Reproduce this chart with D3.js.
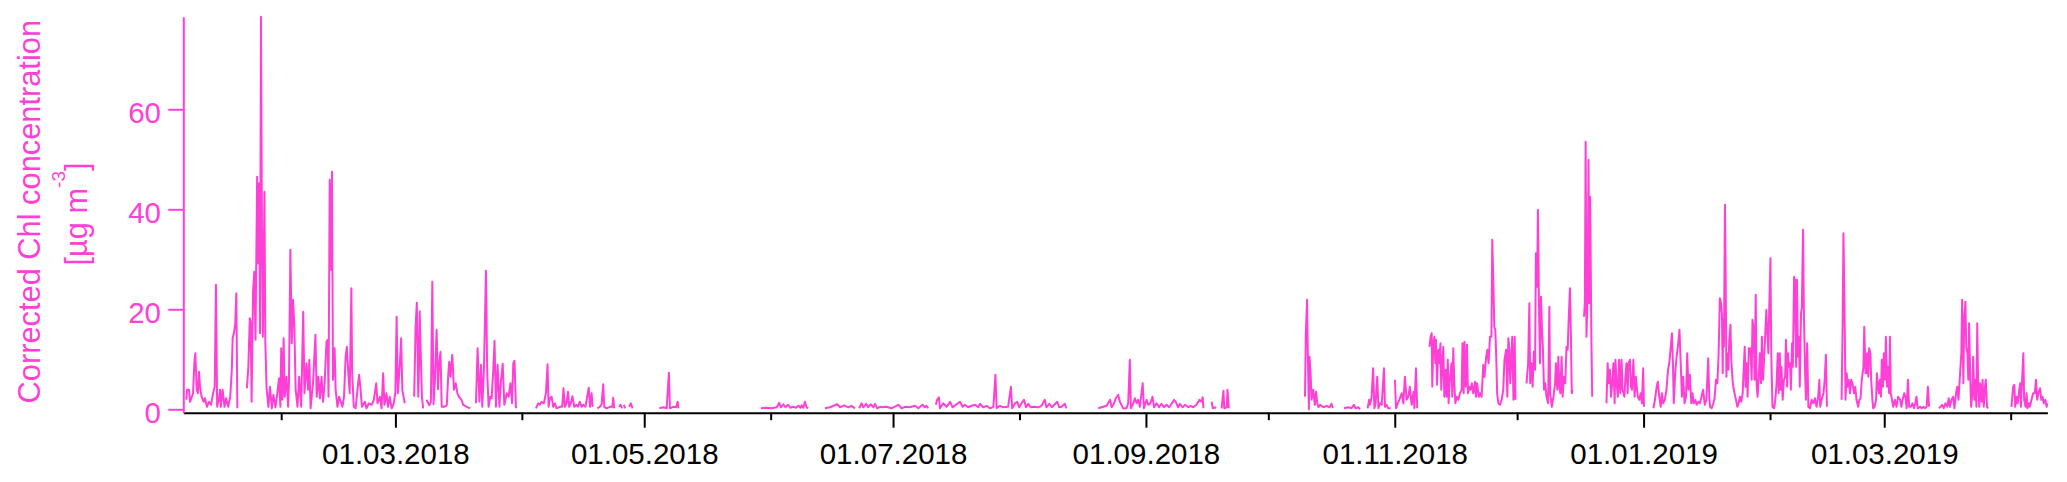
<!DOCTYPE html>
<html>
<head>
<meta charset="utf-8">
<script src="https://cdn.jsdelivr.net/npm/d3@7"></script>
<style>
  body { margin: 0; background: #fff; }
  svg text { font-family: "Liberation Sans", Arial, sans-serif; }
</style>
</head>
<body>
<div id="chart"></div>
<script>
// Chl data: [days since 01.01.2018, µg m-3]
// every inner array is one unbroken stretch of the record (gaps between them)
var winter2018 = [
  [[7.75,1.9],[7.9,3.9],[8.4,3.9],[8.65,1.5],[9.4,3.2],[9.7,9.2],[9.95,11.2],[10.3,3.9],[10.6,3.2],[10.85,7.5],[11.1,4.5],[11.5,2.5],[12.0,1.5],[12.3,2.2],[12.8,0.5],[13.3,1.5],[13.8,0.9],[14.3,3.2],[14.7,4.5],[15.0,24.9],[15.3,0.5],[15.75,2.2],[16.0,3.9],[16.2,0.5],[16.65,3.9],[17.1,0.5],[17.5,2.2],[18.0,0.5],[18.5,2.5],[18.9,7.9],[19.1,14.2],[19.4,15.2],[19.75,17.2],[20.0,23.2],[20.25,0.2]],
  [[22.6,4.2],[22.95,8.5],[23.3,18.2],[23.5,17.5],[23.75,1.5],[24.1,23.5],[24.4,27.5],[24.7,13.9],[25.1,46.5],[25.3,29.2],[25.6,45.2],[25.8,15.2],[26.05,78.5],[26.3,33.2],[26.5,14.5],[26.9,43.5],[27.1,13.9],[27.4,4.5],[27.85,0.5],[28.25,4.5],[28.7,0.2],[29.1,2.9],[29.6,0.4],[30.05,3.2],[30.45,6.2],[30.8,0.5],[31.0,12.2],[31.3,1.9],[31.6,14.2],[31.85,2.5],[32.3,6.5],[32.7,0.5],[32.9,5.2],[33.25,31.9],[33.6,13.2],[33.9,21.9],[34.2,17.2],[34.55,3.9],[35.0,0.5],[35.4,6.5],[35.9,0.5],[36.4,19.5],[36.7,3.2],[37.2,9.2],[37.6,3.9],[37.9,9.9],[38.2,0.2],[38.8,5.2],[39.4,14.9],[39.7,2.5],[40.1,6.5],[40.5,2.2],[40.9,6.5],[41.25,1.5],[41.65,5.2],[42.1,13.5],[42.4,13.9],[42.6,2.5],[42.9,45.9],[43.2,27.9],[43.45,47.5],[43.7,5.9],[44.1,12.2],[44.35,3.9],[44.8,0.5],[45.2,2.5],[45.6,1.5],[46.0,0.5],[46.4,2.5],[46.8,10.5],[47.1,12.5],[47.45,7.2],[47.8,3.2],[48.2,24.2],[48.4,7.2],[48.8,0.5],[49.25,0.2],[49.7,3.9],[50.1,6.9],[50.4,4.5],[50.8,0.5],[51.5,1.5],[51.9,0.2],[52.5,1.2],[53.2,0.9],[53.7,1.9],[54.0,3.5],[54.3,5.2],[54.6,1.2],[55.2,2.5],[55.6,0.2],[56.0,7.2],[56.3,0.9],[56.8,3.2],[57.2,0.5],[57.6,2.5],[58.1,0.2],[58.6,1.2],[59.0,3.5],[59.3,18.5],[59.6,3.2],[60.05,8.5],[60.4,14.2],[60.7,3.9],[61.0,2.5],[61.3,1.2]],
  [[63.6,2.5],[63.95,16.5],[64.25,21.3],[64.6,2.5],[64.8,9.0],[64.95,19.6],[65.5,2.5],[65.8,0.2]],
  [[66.65,1.9],[67.3,0.8],[67.7,1.5],[68.05,25.5],[68.35,1.0],[68.7,6.0],[69.1,15.9],[69.45,4.0],[69.7,9.0],[70.05,11.5],[70.35,0.5],[70.9,0.5],[71.6,0.8],[71.97,7.2],[72.2,9.5],[72.5,6.5],[72.95,10.9],[73.35,3.9],[73.8,5.2],[74.2,3.2],[74.6,2.5],[75.2,1.9],[75.6,0.9],[76.5,0.5],[77.3,0.2]],
  [[78.75,1.2],[79.15,12.2],[79.6,1.5],[80.0,8.9],[80.3,0.5],[80.7,7.9],[81.2,27.7],[81.5,7.5],[81.85,0.5],[82.2,2.5],[82.6,2.2],[83.0,7.9],[83.3,13.7],[83.65,0.5],[84.05,8.9],[84.5,0.5],[84.9,5.9],[85.3,9.1],[85.7,0.9],[86.3,3.2],[86.75,2.5],[87.2,5.2],[87.6,1.2],[87.9,9.2],[88.2,9.7],[88.55,0.2]]
];

var spring2018 = [
  [[93.45,0.2],[94.0,1.2],[94.4,0.9],[94.85,1.5],[95.4,1.2],[95.9,3.2],[96.3,9.0],[96.55,0.5],[96.9,2.2],[97.3,2.5],[97.7,0.5],[98.1,1.2],[98.5,0.2],[99.3,0.5],[99.9,0.5],[100.2,4.2],[100.55,0.5],[100.95,1.2],[101.3,3.5],[101.6,0.5],[102.0,1.2],[102.4,2.6],[102.85,0.5],[103.4,0.9],[103.8,0.5],[104.2,1.5],[104.65,0.5],[105.05,0.9],[105.6,0.5],[106.0,2.5],[106.4,4.3],[106.7,0.5],[107.1,3.2],[107.35,0.5]],
  [[108.5,0.2],[109.1,0.5],[109.55,1.0],[109.95,5.0],[110.2,0.5],[110.8,0.2],[111.6,0.5],[112.2,0.5],[112.4,2.3],[112.65,0.2]],
  [[113.8,0.5],[114.2,0.9],[114.6,0.2]],
  [[115.0,0.9],[115.35,0.2]],
  [[116.3,0.5],[116.7,1.2],[117.15,0.2]],
  [[123.7,0.2],[124.7,0.4],[125.5,0.2],[126.05,7.3],[126.3,0.2],[127.1,0.5],[127.8,0.4],[128.2,1.5],[128.4,0.2]]
];

var summer2018 = [
  [[148.6,0.2],[149.8,0.3],[151.2,0.2],[152.5,0.4],[153.1,1.3],[153.5,0.4],[154.1,1.0],[154.6,0.4],[155.3,0.9],[155.8,0.3],[156.5,0.5],[157.2,0.3],[157.8,0.7],[158.3,0.3],[158.6,0.8],[159.0,0.3],[159.4,1.5],[159.8,0.4],[160.2,0.2]],
  [[164.3,0.2],[165.5,0.4],[167.3,1.0],[168.0,0.4],[169.0,0.8],[170.0,0.4],[170.8,0.7],[171.7,0.2]],
  [[172.7,0.2],[173.3,1.2],[173.7,0.4],[174.4,1.1],[174.9,0.4],[175.5,1.0],[176.2,0.4],[176.6,1.1],[177.1,0.2],[177.8,0.5],[178.6,0.4],[179.4,0.5],[180.6,0.2],[182.3,0.9],[183.1,0.2],[183.9,0.5],[185.1,0.4],[186.4,0.7],[187.2,0.2],[188.2,0.9],[188.8,0.4],[189.2,0.7],[189.6,0.2]],
  [[191.5,0.9],[191.8,1.9],[192.25,2.4],[192.5,0.2],[193.3,1.2],[194.1,0.5],[195.0,1.5],[195.6,0.4],[196.4,0.9],[197.4,1.5],[198.05,0.5],[198.6,0.9],[199.4,0.4],[200.3,0.7],[201.1,0.9],[201.9,0.4],[202.3,1.1],[203.1,0.4],[203.9,0.7],[204.75,0.2],[205.6,0.5],[206.1,6.9],[206.4,0.2],[207.2,0.7],[208.0,0.4],[209.2,0.5],[209.9,4.5],[210.2,0.2],[210.9,1.2],[211.45,1.5],[211.95,0.4],[212.5,1.2],[213.1,1.9],[213.6,0.4],[214.15,1.1],[214.7,0.4],[215.5,0.5],[216.6,0.4],[217.4,0.7],[218.2,1.9],[218.6,0.4],[219.3,1.1],[219.9,0.4],[220.3,0.7],[221.25,1.5],[221.75,0.4],[222.3,0.5],[223.1,1.1],[223.5,0.2]],
  [[231.3,0.2],[232.1,0.4],[233.35,0.7],[234.2,1.9],[234.6,0.4],[235.2,1.2],[235.6,2.2],[236.2,2.9],[236.6,1.5],[237.0,0.9],[237.4,0.2],[238.25,0.2],[238.65,1.2],[239.05,9.9],[239.3,0.2],[239.9,1.2],[240.3,2.2],[240.7,1.2],[241.1,1.9],[241.5,0.5],[242.2,5.2],[242.5,0.2],[243.15,1.9],[243.55,0.9],[244.1,1.2],[244.6,2.5],[245.0,0.4],[245.6,1.2],[246.2,0.4],[246.8,1.1],[247.4,0.4],[248.05,0.9],[248.7,0.4],[249.3,1.1],[249.9,1.9],[250.3,1.5],[250.9,0.4],[251.3,1.1],[252.0,0.4],[252.55,0.9],[253.4,0.4],[253.9,0.7],[254.6,0.4],[255.4,0.9],[256.1,1.9],[256.65,1.5],[256.9,2.4],[257.1,0.2]],
  [[259.1,1.5],[259.4,0.2],[259.9,0.4],[260.2,0.2]],
  [[261.55,0.2],[262.0,3.7],[262.2,0.2],[262.8,0.4],[263.0,3.9],[263.3,0.2]]
];

var autumn2018 = [
  [[282.0,2.5],[282.2,15.2],[282.5,21.9],[282.7,10.5],[282.95,0.0],[283.1,10.5],[283.4,6.5],[283.6,1.9],[284.0,3.9],[284.4,0.9],[284.7,3.5],[285.0,1.2],[285.3,0.4],[285.7,0.9],[286.5,0.4],[287.3,0.7],[288.0,0.4],[288.5,1.1],[288.8,0.2]],
  [[291.55,0.2],[292.6,0.4],[293.4,0.2],[294.0,0.9],[294.4,0.2],[295.05,0.4],[295.5,0.0]],
  [[297.35,0.2],[297.7,1.9],[297.9,0.9],[298.3,2.2],[298.7,8.2],[299.0,0.2],[299.3,1.2],[299.7,6.5],[300.0,0.2],[300.4,1.2],[300.8,0.9],[301.35,8.2],[301.6,0.5],[302.0,0.9],[302.4,0.2],[303.0,0.2]],
  [[304.05,5.9],[304.3,0.2],[304.6,0.9],[305.1,1.9],[305.7,3.2],[306.1,1.2],[306.5,6.5],[306.9,1.9],[307.3,2.5],[307.7,4.5],[308.15,0.9],[308.6,3.5],[308.8,0.2],[309.2,8.2],[309.5,0.2]],
  [[312.5,12.5],[312.8,14.5],[313.05,15.2],[313.2,4.5],[313.45,13.2],[313.7,14.5],[313.95,9.2],[314.1,13.9],[314.35,4.9],[314.7,11.9],[314.9,9.2],[315.2,13.2],[315.4,3.9],[315.7,9.2],[315.9,12.5],[316.15,2.5],[316.5,7.9],[316.7,2.5],[317.0,9.9],[317.2,1.2],[317.5,5.9],[317.9,9.2],[318.1,2.5],[318.35,12.2],[318.6,5.2],[318.85,1.2],[319.2,2.5],[319.6,1.9],[320.0,3.2],[320.4,3.9],[320.6,13.2],[320.9,3.2],[321.1,13.5],[321.4,4.5],[321.7,12.9],[321.95,3.2],[322.3,4.5],[322.6,3.9],[322.9,5.2],[323.25,3.2],[323.7,5.5],[323.9,2.5],[324.2,5.2],[324.6,2.5],[324.9,3.2],[325.3,2.5],[325.7,8.9],[326.0,6.5],[326.4,10.5],[326.7,11.9],[327.0,9.2],[327.35,14.5],[327.7,14.5],[327.9,33.9],[328.2,24.5],[328.4,16.5],[328.65,15.9],[328.9,9.9],[329.1,3.2],[329.4,1.2],[329.8,0.9],[330.2,1.9],[330.6,3.9],[330.9,9.9],[331.3,11.9],[331.6,2.5],[331.85,14.2],[332.1,11.9],[332.3,5.2],[332.6,10.5],[332.8,14.5],[333.1,1.9],[333.4,14.5],[333.6,1.9]],
  [[336.3,5.2],[336.7,9.2],[337.0,21.2],[337.2,5.2],[337.55,9.2],[337.8,4.5],[338.1,11.5],[338.4,7.9],[338.6,31.2],[338.9,24.5],[339.1,39.9],[339.35,21.2],[339.6,9.2],[339.85,22.5],[340.1,15.9],[340.3,12.5],[340.6,3.9],[340.9,5.2],[341.2,2.5],[341.6,1.2],[341.9,20.5],[342.1,3.2],[342.5,0.5],[342.9,2.5],[343.3,5.2],[343.5,9.2],[343.85,3.9],[344.1,10.5],[344.35,4.5],[344.6,3.2],[344.9,10.5],[345.15,2.5],[345.5,6.5],[345.8,5.2],[346.1,12.5],[346.4,11.9],[346.6,17.2],[346.95,24.2],[347.2,13.9],[347.4,3.2],[347.6,3.9]],
  [[350.4,18.5],[350.6,21.2],[350.8,53.5],[351.0,14.5],[351.3,23.2],[351.5,49.9],[351.7,21.2],[351.9,42.5],[352.2,14.5],[352.4,2.5]],
  [[355.9,1.2],[356.2,9.2],[356.4,5.2],[356.75,7.9],[357.0,2.5],[357.3,5.2],[357.6,9.2],[357.9,1.2],[358.1,9.9],[358.4,5.2],[358.7,2.5],[359.0,9.9],[359.3,3.2],[359.6,9.9],[359.85,3.9],[360.3,2.5],[360.6,7.2],[360.8,9.2],[361.1,3.2],[361.3,9.2],[361.65,9.9],[361.9,4.5],[362.15,3.9],[362.5,9.9],[362.8,2.5],[363.1,6.5],[363.4,3.9],[363.6,2.5],[363.95,1.9],[364.3,3.2],[364.6,1.2],[364.9,8.2],[365.1,0.5]]
];

var winter2019 = [
  [[367.4,0.2],[367.8,1.9],[368.2,4.5],[368.5,5.5],[368.85,2.5],[369.2,0.5],[369.5,3.2],[369.8,1.2],[370.2,1.9],[370.6,3.9],[371.0,7.9],[371.3,9.2],[371.6,11.9],[371.95,15.2],[372.2,9.2],[372.4,1.2],[372.8,7.9],[373.1,10.5],[373.5,13.2],[373.8,15.9],[374.1,9.2],[374.4,2.5],[374.7,6.5],[375.05,1.2],[375.4,2.5],[375.7,11.2],[376.0,3.9],[376.35,6.9],[376.7,1.2],[377.0,3.2],[377.3,1.2],[377.7,1.9],[378.0,0.9],[378.4,1.5],[378.8,1.2],[379.2,2.5],[379.6,3.9],[380.0,0.9],[380.4,1.9],[380.85,10.2],[381.1,2.5],[381.3,0.5],[381.7,0.2],[382.1,1.2],[382.4,2.2],[382.75,5.9],[383.1,5.2],[383.4,11.2],[383.7,22.2],[384.0,21.2],[384.2,19.2],[384.4,7.2],[384.5,17.9],[384.7,12.5],[384.95,40.9],[385.1,29.9],[385.3,6.5],[385.5,11.2],[385.8,7.9],[386.0,13.9],[386.3,16.9],[386.5,9.9],[386.8,5.9],[387.0,4.5],[387.3,3.2],[387.65,1.9],[388.0,0.5],[388.3,1.2],[388.6,2.5],[388.95,1.5],[389.3,3.2],[389.5,7.2],[389.8,12.5],[390.0,4.5],[390.3,9.2],[390.5,2.5],[390.8,12.2],[391.0,11.2],[391.2,12.2],[391.5,5.9],[391.7,17.9],[392.0,15.9],[392.2,5.9],[392.5,22.9],[392.7,5.2],[392.95,2.5],[393.2,5.9],[393.5,11.2],[393.8,5.2],[394.0,14.5],[394.3,5.9],[394.6,11.2],[394.8,14.5],[395.1,19.9],[395.3,15.9],[395.6,11.2],[395.8,19.9],[396.1,30.2],[396.3,11.2],[396.6,0.5],[397.0,0.2],[397.3,1.9],[397.6,5.2],[397.9,11.2],[398.1,3.2],[398.4,11.2],[398.6,3.9],[398.8,8.5],[399.1,1.9],[399.4,5.9],[399.7,6.5],[399.9,13.9],[400.2,4.5],[400.4,11.2],[400.6,8.5],[400.9,9.2],[401.1,3.9],[401.4,13.2],[401.6,8.5],[401.9,26.5],[402.1,25.9],[402.4,8.5],[402.6,25.9],[402.85,10.5],[403.1,14.5],[403.3,4.5],[403.6,19.2],[403.8,20.5],[404.1,35.9],[404.3,19.2],[404.6,7.2],[404.8,1.9],[405.1,13.2],[405.4,0.5],[405.8,0.2],[406.2,1.9],[406.6,1.2],[407.0,2.2],[407.4,0.5],[407.8,2.5],[408.1,5.9],[408.3,0.5],[408.65,1.9],[409.1,3.2],[409.4,5.9],[409.7,10.9],[409.95,0.5]],
  [[413.55,1.9],[413.8,17.2],[414.0,35.2],[414.3,17.9],[414.5,1.9],[414.8,7.2],[415.0,4.5],[415.3,5.9],[415.6,3.2],[415.9,5.9],[416.2,5.2],[416.6,3.2],[416.9,4.5],[417.2,1.9],[417.6,0.5],[417.9,1.9],[418.2,2.2],[418.5,5.9],[418.9,8.5],[419.1,16.5],[419.4,7.2],[419.6,7.2],[419.8,11.2],[420.1,6.5],[420.3,12.2],[420.6,11.2],[420.8,5.9],[421.1,1.9],[421.3,0.2],[421.6,0.5],[422.0,1.9],[422.2,7.2],[422.5,4.5],[422.7,3.2],[422.95,5.9],[423.2,2.5],[423.4,9.9],[423.7,4.5],[423.9,11.2],[424.2,5.9],[424.4,14.5],[424.7,4.5],[424.9,8.5],[425.2,3.2],[425.4,14.5],[425.6,3.2],[425.9,1.9],[426.2,0.5],[426.6,1.9],[427.0,0.5],[427.4,2.5],[427.9,1.9],[428.2,0.5],[428.5,1.9],[428.9,3.2],[429.2,2.5],[429.5,0.2],[429.8,5.9],[430.1,0.5],[430.5,0.5],[430.9,1.2],[431.3,0.2],[431.6,1.2],[431.9,2.5],[432.2,0.2],[432.8,0.5],[433.2,0.2],[433.6,0.5],[434.0,0.2],[434.4,0.5],[434.7,4.5],[435.0,0.5]],
  [[437.4,0.2],[437.8,0.5],[438.2,0.9],[438.6,0.2],[439.0,1.2],[439.45,0.5],[439.8,2.2],[440.1,0.5],[440.5,1.9],[440.9,2.5],[441.2,0.2],[441.6,3.2],[441.9,4.5],[442.2,1.9],[442.6,7.2],[442.9,11.2],[443.1,21.9],[443.4,5.2],[443.6,17.9],[443.9,21.5],[444.1,12.5],[444.4,11.2],[444.6,5.9],[444.8,17.2],[445.1,5.9],[445.3,0.5],[445.6,3.2],[445.8,10.5],[446.1,1.9],[446.3,5.9],[446.6,0.5],[446.8,17.2],[447.0,5.9],[447.3,0.5],[447.5,5.2],[447.9,1.5],[448.1,5.9],[448.4,0.5],[448.7,4.5],[448.9,5.9],[449.2,0.5],[449.5,0.2]],
  [[455.2,0.5],[455.6,4.5],[455.9,4.9],[456.1,0.5],[456.4,2.5],[456.7,1.2],[457.0,3.2],[457.3,5.2],[457.5,0.5],[457.8,5.9],[458.1,11.2],[458.3,1.9],[458.65,0.5],[458.9,3.2],[459.1,0.2],[459.5,1.2],[459.7,0.5],[460.1,1.9],[460.5,3.2],[460.9,3.2],[461.2,5.9],[461.5,1.9],[461.8,3.2],[462.2,4.2],[462.5,1.9],[462.8,2.5],[463.1,1.2],[463.5,1.9],[463.8,0.5],[464.0,1.2]]
];

var yTicks = [0, 20, 40, 60];
var majorTickDates = ["2018-03-01", "2018-05-01", "2018-07-01", "2018-09-01", "2018-11-01", "2019-01-01", "2019-03-01"];
var minorTickDates = ["2018-02-01", "2018-04-01", "2018-06-01", "2018-08-01", "2018-10-01", "2018-12-01", "2019-02-01", "2019-04-01"];

var chlColor = "#ff40d6";

var outerWidth = 2067,
  outerHeight = 482,
  plot = { left: 183.3, right: 2047.4, top: 16.7, bottom: 412.7 };

var day0 = Date.UTC(2018, 0, 1);
var toDate = function(day) { return new Date(day0 + day * 864e5); };
var parseDay = d3.utcParse("%Y-%m-%d");

var svg = d3.select("#chart").append("svg")
  .attr("width", outerWidth)
  .attr("height", outerHeight)
  .style("display", "block")
  .style("background", "#fff");

// scales
var xScale = d3.scaleUtc()
  .domain([toDate(7), toDate(464)])
  .range([plot.left, plot.right]);

var yScale = d3.scaleLinear()
  .domain([-0.68, 78.52])
  .range([plot.bottom, plot.top]);

// the series, one path per stretch
var chlLine = d3.line()
  .x(function(d) { return xScale(toDate(d[0])); })
  .y(function(d) { return yScale(d[1]); });

var chlSegments = [].concat(winter2018, spring2018, summer2018, autumn2018, winter2019);

svg.append("g")
  .attr("class", "series")
  .selectAll("path")
  .data(chlSegments)
  .enter()
  .append("path")
  .attr("d", chlLine)
  .attr("fill", "none")
  .attr("stroke", chlColor)
  .attr("stroke-width", 2)
  .attr("stroke-linejoin", "round");

// X axis (black), labelled majors + short minors
var xAxis = d3.axisBottom(xScale)
  .tickValues(majorTickDates.map(parseDay))
  .tickFormat(d3.utcFormat("%d.%m.%Y"))
  .tickSize(15)
  .tickSizeOuter(0)
  .tickPadding(15.7);

var gx = svg.append("g")
  .attr("class", "x axis")
  .attr("transform", "translate(0," + plot.bottom + ")")
  .attr("font-family", null)
  .attr("font-size", null)
  .call(xAxis);

gx.select(".domain").attr("stroke", "#000").attr("stroke-width", 2);
gx.selectAll(".tick line").attr("stroke", "#000").attr("stroke-width", 2);
gx.selectAll(".tick text")
  .attr("fill", "#000")
  .attr("font-size", 29.5);

var xMinor = d3.axisBottom(xScale)
  .tickValues(minorTickDates.map(parseDay))
  .tickFormat("")
  .tickSize(7.5)
  .tickSizeOuter(0);

var gxm = svg.append("g")
  .attr("class", "x axis minor")
  .attr("transform", "translate(0," + plot.bottom + ")")
  .call(xMinor);
gxm.select(".domain").remove();
gxm.selectAll(".tick line").attr("stroke", "#000").attr("stroke-width", 2);

// Y axis (magenta)
var yAxis = d3.axisLeft(yScale)
  .tickValues(yTicks)
  .tickSize(15)
  .tickSizeOuter(0)
  .tickPadding(7.3);

var gy = svg.append("g")
  .attr("class", "y axis")
  .attr("transform", "translate(" + plot.left + ",0)")
  .attr("font-family", null)
  .attr("font-size", null)
  .call(yAxis);

gy.select(".domain").attr("stroke", chlColor).attr("stroke-width", 2);
gy.selectAll(".tick line").attr("stroke", chlColor).attr("stroke-width", 2);
gy.selectAll(".tick text")
  .attr("fill", chlColor)
  .attr("font-size", 29.5)
  .attr("dy", "0.44em");

// y title, two lines
svg.append("text")
  .attr("transform", "translate(40,211.7) rotate(-90)")
  .attr("text-anchor", "middle")
  .attr("fill", chlColor)
  .attr("font-size", 30.8)
  .text("Corrected Chl concentration");

var unit = svg.append("text")
  .attr("transform", "translate(86.5,214) rotate(-90)")
  .attr("text-anchor", "middle")
  .attr("fill", chlColor)
  .attr("font-size", 30.8);
unit.append("tspan").text("[µg m");
unit.append("tspan").attr("font-size", 19).attr("dy", -21.5).text("-3");
unit.append("tspan").attr("dy", 21.5).text("]");
</script>
</body>
</html>
